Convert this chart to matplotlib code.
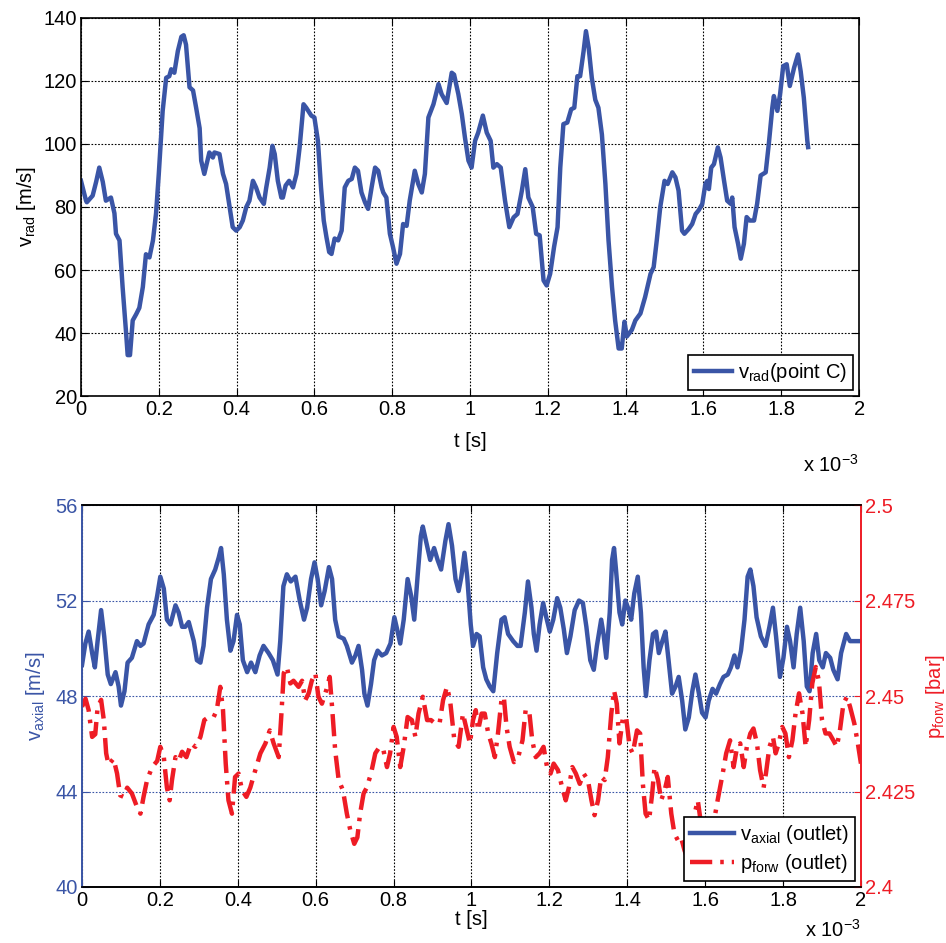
import numpy as np
import matplotlib
matplotlib.use("Agg")
import matplotlib.pyplot as plt

plt.rcParams['font.family'] = ['Liberation Sans', 'DejaVu Sans']
plt.rcParams['mathtext.default'] = 'regular'

# time in units of 1e-3 s
t_rad = [0.0, 0.013, 0.015, 0.03, 0.039, 0.047, 0.056, 0.064, 0.077, 0.086, 0.09, 0.099,
         0.107, 0.116, 0.12, 0.126, 0.133, 0.142, 0.15, 0.159, 0.167, 0.176, 0.185, 0.193,
         0.2, 0.21, 0.219, 0.227, 0.232, 0.24, 0.249, 0.258, 0.264, 0.27, 0.279, 0.288,
         0.296, 0.305, 0.309, 0.317, 0.33, 0.339, 0.343, 0.356, 0.365, 0.373, 0.382, 0.39,
         0.399, 0.408, 0.416, 0.425, 0.433, 0.442, 0.45, 0.459, 0.47, 0.476, 0.485, 0.492,
         0.498, 0.506, 0.515, 0.519, 0.526, 0.535, 0.54, 0.545, 0.554, 0.562, 0.572, 0.579,
         0.592, 0.6, 0.609, 0.617, 0.624, 0.631, 0.638, 0.644, 0.652, 0.661, 0.67, 0.678,
         0.687, 0.696, 0.704, 0.712, 0.721, 0.73, 0.738, 0.747, 0.756, 0.764, 0.773, 0.777,
         0.785, 0.794, 0.802, 0.811, 0.82, 0.828, 0.837, 0.845, 0.858, 0.867, 0.876, 0.884,
         0.893, 0.906, 0.919, 0.927, 0.94, 0.953, 0.959, 0.97, 0.979, 0.987, 0.996, 1.004,
         1.013, 1.021, 1.033, 1.043, 1.053, 1.06, 1.069, 1.079, 1.09, 1.101, 1.112, 1.122,
         1.133, 1.142, 1.15, 1.161, 1.17, 1.179, 1.189, 1.197, 1.206, 1.216, 1.225, 1.232,
         1.24, 1.25, 1.26, 1.268, 1.276, 1.283, 1.292, 1.298, 1.305, 1.313, 1.322, 1.33,
         1.339, 1.348, 1.356, 1.365, 1.373, 1.382, 1.39, 1.397, 1.403, 1.416, 1.425, 1.438,
         1.45, 1.464, 1.472, 1.48, 1.489, 1.5, 1.508, 1.52, 1.528, 1.536, 1.545, 1.551,
         1.562, 1.571, 1.58, 1.588, 1.597, 1.605, 1.61, 1.614, 1.62, 1.627, 1.637, 1.644,
         1.653, 1.661, 1.67, 1.674, 1.68, 1.689, 1.696, 1.704, 1.711, 1.719, 1.73, 1.738,
         1.747, 1.76, 1.768, 1.777, 1.781, 1.79, 1.797, 1.805, 1.814, 1.822, 1.833, 1.843,
         1.85, 1.858, 1.867, 1.869]
v_rad = [88.3, 82.0, 81.5, 83.6, 88.0, 92.5, 88.0, 82.0, 83.0, 78.0, 71.5, 69.4,
         54.6, 40.0, 33.0, 33.0, 44.0, 46.0, 48.0, 54.6, 65.0, 64.0, 69.4, 78.0,
         90.5, 110.5, 121.0, 121.5, 123.7, 122.6, 129.5, 134.0, 134.5, 131.5, 118.0, 117.0,
         111.5, 105.0, 94.7, 90.5, 97.3, 95.7, 97.3, 96.8, 90.5, 87.3, 80.0, 73.6,
         72.5, 73.6, 75.7, 80.0, 82.0, 88.3, 86.2, 83.0, 81.0, 86.0, 92.5, 99.4,
         96.8, 88.3, 83.0, 83.0, 86.8, 88.3, 87.3, 86.2, 90.5, 98.9, 112.6, 111.5,
         109.0, 108.4, 101.0, 86.2, 75.7, 70.4, 65.7, 65.1, 70.0, 69.4, 72.5, 86.2,
         88.3, 88.9, 92.5, 91.5, 84.6, 81.5, 79.4, 86.2, 92.5, 91.5, 86.2, 84.6,
         83.0, 71.5, 67.3, 62.0, 65.1, 74.6, 74.0, 82.0, 91.5, 87.3, 84.6, 90.5,
         108.4, 112.6, 119.0, 115.8, 113.0, 122.6, 122.0, 115.8, 109.4, 102.0, 94.7, 92.5,
         101.0, 103.6, 109.0, 103.6, 101.0, 92.5, 93.6, 92.5, 82.0, 73.6, 76.7, 77.8,
         85.0, 92.0, 83.0, 80.0, 71.5, 71.0, 56.7, 55.1, 58.8, 67.3, 73.6, 92.5,
         106.3, 106.8, 111.0, 111.5, 121.5, 121.5, 129.5, 135.8, 130.5, 121.0, 114.0, 111.5,
         103.0, 87.3, 69.4, 54.6, 44.0, 35.1, 35.1, 43.6, 38.9, 41.0, 44.0, 46.2,
         51.4, 58.8, 60.9, 69.4, 80.0, 88.3, 87.3, 91.0, 89.4, 85.2, 72.5, 71.5,
         73.0, 74.6, 77.8, 79.0, 81.0, 87.3, 88.3, 85.7, 92.5, 93.6, 98.9, 95.7,
         88.3, 82.0, 81.0, 83.0, 73.6, 68.3, 63.6, 68.3, 76.8, 75.7, 75.7, 81.0,
         90.0, 91.0, 100.0, 111.5, 115.2, 110.5, 115.8, 124.7, 125.3, 118.4, 124.2, 128.4,
         123.0, 114.7, 101.0, 99.0]

t_axial = [0.0, 0.0086, 0.017, 0.026, 0.033, 0.04, 0.049, 0.057, 0.066, 0.074, 0.086, 0.094,
           0.1, 0.109, 0.117, 0.128, 0.141, 0.15, 0.158, 0.171, 0.184, 0.193, 0.201, 0.21,
           0.218, 0.227, 0.24, 0.248, 0.257, 0.265, 0.274, 0.287, 0.295, 0.304, 0.312, 0.321,
           0.331, 0.342, 0.351, 0.357, 0.364, 0.372, 0.381, 0.389, 0.398, 0.405, 0.413, 0.424,
           0.434, 0.445, 0.456, 0.466, 0.479, 0.49, 0.502, 0.509, 0.517, 0.526, 0.536, 0.548,
           0.559, 0.57, 0.578, 0.588, 0.597, 0.605, 0.614, 0.623, 0.634, 0.642, 0.65, 0.659,
           0.672, 0.68, 0.693, 0.702, 0.71, 0.719, 0.725, 0.733, 0.742, 0.75, 0.759, 0.77,
           0.781, 0.792, 0.802, 0.809, 0.817, 0.826, 0.836, 0.845, 0.853, 0.862, 0.87, 0.875,
           0.886, 0.894, 0.904, 0.913, 0.922, 0.933, 0.941, 0.95, 0.959, 0.967, 0.974, 0.982,
           0.989, 0.998, 1.004, 1.013, 1.021, 1.03, 1.038, 1.047, 1.056, 1.066, 1.077, 1.085,
           1.094, 1.107, 1.118, 1.126, 1.137, 1.145, 1.154, 1.16, 1.167, 1.175, 1.184, 1.192,
           1.201, 1.21, 1.22, 1.228, 1.237, 1.245, 1.254, 1.265, 1.276, 1.286, 1.295, 1.305,
           1.314, 1.322, 1.333, 1.339, 1.346, 1.355, 1.361, 1.366, 1.371, 1.38, 1.387, 1.395,
           1.404, 1.41, 1.418, 1.427, 1.435, 1.442, 1.448, 1.457, 1.466, 1.474, 1.481, 1.49,
           1.498, 1.506, 1.515, 1.524, 1.532, 1.541, 1.549, 1.558, 1.567, 1.575, 1.584, 1.592,
           1.601, 1.609, 1.619, 1.628, 1.638, 1.647, 1.658, 1.666, 1.675, 1.683, 1.692, 1.701,
           1.709, 1.716, 1.724, 1.732, 1.743, 1.755, 1.765, 1.774, 1.782, 1.792, 1.801, 1.81,
           1.818, 1.827, 1.835, 1.844, 1.853, 1.861, 1.868, 1.876, 1.885, 1.893, 1.902, 1.91,
           1.921, 1.929, 1.94, 1.949, 1.962, 1.972, 1.983, 2.0]
v_axial = [49.3, 50.2, 50.7, 49.8, 49.2, 50.3, 51.6, 50.5, 48.9, 48.5, 49.0, 48.4,
           47.6, 48.2, 49.4, 49.6, 50.3, 50.1, 50.2, 51.0, 51.4, 52.2, 53.0, 52.5,
           51.2, 51.0, 51.8, 51.5, 50.9, 50.9, 51.1, 50.3, 49.5, 49.4, 50.1, 51.7,
           52.9, 53.3, 53.8, 54.2, 53.1, 51.2, 49.9, 50.3, 51.4, 51.0, 49.5, 49.0,
           49.4, 49.0, 49.7, 50.1, 49.8, 49.5, 48.9, 50.3, 52.6, 53.1, 52.8, 53.0,
           52.0, 51.2, 51.7, 52.9, 53.6, 52.9, 51.8, 52.4, 53.4, 52.9, 51.2, 50.5,
           50.4, 50.1, 49.4, 49.7, 50.1, 49.1, 48.1, 47.6, 48.5, 49.5, 49.9, 49.7,
           49.8, 50.2, 51.3, 50.8, 50.2, 51.2, 52.9, 52.2, 51.2, 53.1, 54.7, 55.1,
           54.3, 53.7, 54.2, 53.7, 53.3, 54.5, 55.2, 54.3, 52.9, 52.4, 53.0, 54.0,
           53.0, 51.0, 50.1, 50.6, 50.5, 49.2, 48.7, 48.4, 48.2, 49.8, 51.2, 51.3,
           50.6, 50.3, 50.1, 50.1, 51.5, 52.8, 51.7, 50.6, 49.9, 51.0, 51.9, 51.3,
           50.7, 51.2, 52.1, 51.7, 50.8, 49.8, 50.5, 51.6, 52.0, 51.9, 50.9, 49.5,
           49.1, 50.1, 51.2, 50.6, 49.6, 51.5, 53.7, 54.2, 53.3, 51.5, 51.0, 52.0,
           51.6, 51.2, 52.3, 53.0, 51.5, 49.2, 48.0, 49.5, 50.6, 50.7, 49.8, 50.3,
           50.7, 49.5, 48.1, 48.4, 48.8, 47.8, 46.6, 47.1, 48.2, 48.9, 48.1, 47.3,
           47.1, 47.8, 48.3, 48.1, 48.5, 48.8, 48.9, 49.2, 49.7, 49.2, 49.9, 51.2,
           53.0, 53.3, 52.6, 51.3, 50.5, 50.1, 50.9, 51.7, 50.5, 48.8, 49.6, 50.9,
           50.3, 49.2, 50.6, 51.7, 50.3, 48.4, 48.2, 49.8, 50.6, 49.5, 49.2, 49.8,
           49.6, 49.1, 48.7, 49.8, 50.6, 50.3, 50.3, 50.3]

t_forw = [0.0, 0.009, 0.017, 0.026, 0.034, 0.04, 0.049, 0.056, 0.062, 0.068, 0.081, 0.09,
          0.098, 0.107, 0.116, 0.128, 0.141, 0.15, 0.158, 0.167, 0.18, 0.193, 0.201, 0.21,
          0.218, 0.225, 0.231, 0.24, 0.248, 0.257, 0.268, 0.28, 0.291, 0.304, 0.314, 0.325,
          0.338, 0.346, 0.355, 0.362, 0.369, 0.376, 0.385, 0.393, 0.402, 0.411, 0.422, 0.432,
          0.445, 0.458, 0.471, 0.482, 0.492, 0.505, 0.511, 0.518, 0.526, 0.535, 0.543, 0.556,
          0.565, 0.573, 0.582, 0.59, 0.599, 0.607, 0.616, 0.627, 0.636, 0.642, 0.65, 0.659,
          0.67, 0.68, 0.689, 0.699, 0.707, 0.714, 0.723, 0.731, 0.742, 0.753, 0.764, 0.774,
          0.783, 0.791, 0.8, 0.808, 0.817, 0.826, 0.836, 0.847, 0.856, 0.864, 0.875, 0.886,
          0.896, 0.907, 0.918, 0.927, 0.937, 0.945, 0.956, 0.967, 0.978, 0.986, 0.996, 1.004,
          1.011, 1.017, 1.026, 1.034, 1.043, 1.051, 1.06, 1.068, 1.077, 1.083, 1.09, 1.098,
          1.109, 1.12, 1.131, 1.139, 1.148, 1.156, 1.165, 1.175, 1.185, 1.194, 1.203, 1.211,
          1.222, 1.233, 1.242, 1.25, 1.259, 1.268, 1.278, 1.288, 1.299, 1.308, 1.316, 1.325,
          1.333, 1.342, 1.35, 1.359, 1.366, 1.373, 1.38, 1.389, 1.397, 1.406, 1.414, 1.425,
          1.433, 1.44, 1.447, 1.456, 1.464, 1.47, 1.479, 1.487, 1.496, 1.504, 1.513, 1.521,
          1.53, 1.538, 1.547, 1.556, 1.564, 1.573, 1.581, 1.587, 1.594, 1.607, 1.62, 1.632,
          1.645, 1.654, 1.664, 1.673, 1.682, 1.69, 1.699, 1.707, 1.716, 1.724, 1.733, 1.741,
          1.75, 1.756, 1.765, 1.774, 1.781, 1.789, 1.798, 1.806, 1.815, 1.824, 1.832, 1.841,
          1.85, 1.858, 1.867, 1.875, 1.884, 1.892, 1.9, 1.909, 1.919, 1.929, 1.938, 1.946,
          1.955, 1.964, 1.972, 1.983, 1.992, 2.0]
p_forw = [2.4472, 2.4493, 2.4463, 2.4393, 2.44, 2.447, 2.449, 2.4437, 2.435, 2.432, 2.4336, 2.4297,
          2.424, 2.4236, 2.426, 2.4245, 2.421, 2.4192, 2.4236, 2.428, 2.4314, 2.433, 2.4367, 2.434,
          2.426, 2.4227, 2.428, 2.434, 2.433, 2.4354, 2.434, 2.4376, 2.4367, 2.4393, 2.4437, 2.4445,
          2.4445, 2.4463, 2.4524, 2.4463, 2.4323, 2.4227, 2.4192, 2.4288, 2.4297, 2.4253, 2.4236, 2.426,
          2.4306, 2.435, 2.4376, 2.441, 2.4376, 2.434, 2.4437, 2.456, 2.4576, 2.4533, 2.454, 2.4524,
          2.454, 2.4489, 2.4507, 2.454, 2.456, 2.4498, 2.448, 2.4515, 2.455, 2.4472, 2.4358, 2.428,
          2.4253, 2.4192, 2.4148, 2.4113, 2.413, 2.4192, 2.4245, 2.426, 2.4297, 2.435, 2.4367, 2.4358,
          2.4314, 2.435, 2.4419, 2.4393, 2.4314, 2.4367, 2.4445, 2.4437, 2.4393, 2.4454, 2.4498, 2.4437,
          2.4437, 2.4428, 2.4428, 2.4489, 2.4524, 2.4489, 2.4384, 2.4367, 2.4454, 2.4419, 2.4376, 2.4437,
          2.4463, 2.441, 2.4454, 2.4454, 2.4402, 2.4376, 2.434, 2.4402, 2.449, 2.4498, 2.4419, 2.4367,
          2.4327, 2.434, 2.4384, 2.4463, 2.4463, 2.4384, 2.434, 2.435, 2.4367, 2.4314, 2.4297, 2.4323,
          2.4306, 2.426, 2.4227, 2.426, 2.4314, 2.4297, 2.427, 2.4297, 2.428, 2.4227, 2.4188, 2.4227,
          2.4288, 2.428, 2.434, 2.4454, 2.4515, 2.448, 2.4376, 2.4445, 2.4445, 2.4367, 2.435, 2.441,
          2.4402, 2.427, 2.4192, 2.4175, 2.4245, 2.4314, 2.428, 2.4227, 2.4253, 2.4288, 2.4192, 2.414,
          2.4122, 2.413, 2.4096, 2.407, 2.4105, 2.4192, 2.4227, 2.4183, 2.4122, 2.4122, 2.4157, 2.4227,
          2.4297, 2.435, 2.4384, 2.4314, 2.4367, 2.4376, 2.4314, 2.4367, 2.4402, 2.4415, 2.4376, 2.4306,
          2.426, 2.4297, 2.4367, 2.4393, 2.435, 2.4376, 2.4419, 2.4402, 2.434, 2.4384, 2.4454, 2.4507,
          2.4454, 2.4367, 2.4437, 2.4533, 2.4576, 2.454, 2.4437, 2.4402, 2.4402, 2.4384, 2.4367, 2.441,
          2.448, 2.4498, 2.4472, 2.4428, 2.4376, 2.4323]

x_ticks = [0, 0.2, 0.4, 0.6, 0.8, 1, 1.2, 1.4, 1.6, 1.8, 2]
x_labels = ['0', '0.2', '0.4', '0.6', '0.8', '1', '1.2', '1.4', '1.6', '1.8', '2']
rad_ticks = [20, 40, 60, 80, 100, 120, 140]
axial_ticks = [40, 44, 48, 52, 56]
forw_ticks = [2.4, 2.425, 2.45, 2.475, 2.5]
forw_labels = ['2.4', '2.425', '2.45', '2.475', '2.5']

BLUE = '#3a55a6'
RED = '#ee1c25'
FS = 14.5

fig = plt.figure(figsize=(9.46, 9.43), dpi=100)

# ---- top panel
ax1 = fig.add_axes([0.0856, 0.580, 0.8225, 0.401])
ax1.plot(t_rad, v_rad, color=BLUE, lw=3.2, label=r'v$_{rad}$(point C)')
ax1.set_xlim(0, 2)
ax1.set_ylim(20, 140)
ax1.set_xticks(x_ticks)
ax1.set_xticklabels(x_labels)
ax1.set_yticks(rad_ticks)
ax1.grid(True, color='black', linestyle=(0, (1.5, 1.5)), linewidth=0.8)
ax1.tick_params(direction='in', top=True, right=True, labelsize=FS, length=5, pad=3)
for s in ax1.spines.values():
    s.set_linewidth(1.2)
ax1.set_xlabel('t [s]', fontsize=FS, labelpad=9)
ax1.set_ylabel(r'v$_{rad}$ [m/s]', fontsize=FS, labelpad=4)
ax1.text(1.0, -0.183, r'x 10$^{-3}$', transform=ax1.transAxes, ha='right', va='center',
         fontsize=FS)
leg1 = ax1.legend(loc='lower right', fontsize=FS, fancybox=False, framealpha=1,
                  edgecolor='black', handlelength=1.9, handletextpad=0.3,
                  borderaxespad=0.3, borderpad=0.3)
leg1.get_frame().set_linewidth(1.2)

# ---- bottom panel
ax2 = fig.add_axes([0.0867, 0.0594, 0.8234, 0.405])
l1, = ax2.plot(t_axial, v_axial, color=BLUE, lw=3.2, label=r'v$_{axial}$ (outlet)')
ax2.set_xlim(0, 2)
ax2.set_ylim(40, 56)
ax2.set_xticks(x_ticks)
ax2.set_xticklabels(x_labels)
ax2.set_yticks(axial_ticks)
ax2.xaxis.grid(True, color='black', linestyle=(0, (1.5, 1.5)), linewidth=0.8)
ax2.yaxis.grid(True, color=BLUE, linestyle=(0, (1.5, 1.5)), linewidth=0.8)
ax2.tick_params(axis='x', direction='in', top=True, labelsize=FS, length=5, pad=3)
ax2.tick_params(axis='y', direction='in', colors=BLUE, labelsize=FS, length=5, pad=3)
ax2.set_xlabel('t [s]', fontsize=FS, labelpad=0)
ax2.set_ylabel(r'v$_{axial}$ [m/s]', fontsize=FS, color=BLUE, labelpad=6)
ax2.text(1.0, -0.113, r'x 10$^{-3}$', transform=ax2.transAxes, ha='right', va='center',
         fontsize=FS)

ax3 = ax2.twinx()
l2, = ax3.plot(t_forw, p_forw, color=RED, lw=3.2, linestyle=(0, (5, 1.8, 0.8, 1.8)),
               label=r'p$_{forw}$ (outlet)')
ax3.set_ylim(2.4, 2.5)
ax3.set_yticks(forw_ticks)
ax3.set_yticklabels(forw_labels)
ax3.tick_params(axis='y', direction='in', colors=RED, labelsize=FS, length=5, pad=3)
ax3.set_ylabel(r'p$_{forw}$ [bar]', fontsize=FS, color=RED, labelpad=6)

for a in (ax2, ax3):
    for s in a.spines.values():
        s.set_linewidth(1.2)
ax3.spines['left'].set_color(BLUE)
ax3.spines['right'].set_color(RED)
ax2.spines['left'].set_color(BLUE)
ax2.spines['right'].set_color(RED)

leg2 = ax3.legend(handles=[l1, l2], loc='lower right', fontsize=FS, fancybox=False,
                  framealpha=1, edgecolor='black', handlelength=2.2, handletextpad=0.3,
                  borderaxespad=0.3, borderpad=0.3, labelspacing=0.3)
leg2.get_frame().set_linewidth(1.2)

fig.savefig('out.png', dpi=100)
